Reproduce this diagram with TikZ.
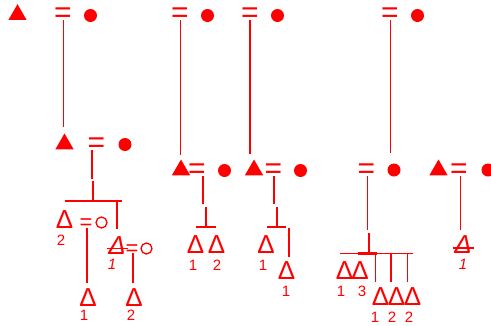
\documentclass[tikz,border=0pt]{standalone}
\usepackage{fontspec}
\setmainfont{Liberation Sans}
\usetikzlibrary{shapes.geometric}

\tikzset{
  wire/.style={red, line width=1.3pt},
  thickbar/.style={red, line width=2.4pt},
  tri/.style={regular polygon, regular polygon sides=3, fill=red, inner sep=0pt, minimum size=21pt},
  blob/.style={circle, fill=red, inner sep=0pt, minimum size=13pt},
  ring/.style={circle, draw=red, line width=1.3pt, inner sep=0pt, minimum size=11pt},
  eq/.style={text=red, inner sep=0pt, yshift=-2pt, font=\fontsize{30}{30}\selectfont},
  smalleq/.style={text=red, inner sep=0pt, yshift=-3pt, font=\fontsize{22}{22}\selectfont},
  dlt/.style={text=red, inner sep=0pt, font=\fontsize{26}{26}\selectfont},
  idx/.style={text=red, inner sep=0pt, font=\fontsize{15}{15}\selectfont},
}

\begin{document}
\begin{tikzpicture}[x=1pt,y=-1pt]
\useasboundingbox (0,0) rectangle (491,325);

% top row
\node[tri] (t1) at (17.5,14.7) {};
\node[eq] (e1) at (63,13) {=};
\node[blob] (d1) at (90.5,15.5) {};
\node[eq] (e2) at (180,13) {=};
\node[blob] (d2) at (207.5,15.5) {};
\node[eq] (e3) at (250,13) {=};
\node[blob] (d3) at (277.5,15.5) {};
\node[eq] (e4) at (390,13) {=};
\node[blob] (d4) at (417.5,15.5) {};

\coordinate (k1) at (63.7,127);
\coordinate (k2) at (180.7,155);
\coordinate (k3) at (250,154);
\coordinate (k4) at (390.7,153);
\draw[wire] (k1 |- 0,20) -- (k1);
\draw[wire] (k2 |- 0,20) -- (k2);
\draw[wire] (k3 |- 0,20) -- (k3);
\draw[wire] (k4 |- 0,20) -- (k4);

% second row
\node[tri] (t2) at (64.5,144) {};
\node[eq] (e5) at (96.5,143) {=};
\node[blob] (d5) at (125,144.5) {};
\node[tri] (t3) at (181,170) {};
\node[eq] (e6) at (197,169.5) {=};
\node[blob] (d6) at (224.5,170.5) {};
\node[tri] (t4) at (254,170) {};
\node[eq] (e7) at (273.5,169.5) {=};
\node[blob] (d7) at (300.5,170.5) {};
\node[eq] (e8) at (366.5,169.5) {=};
\node[blob] (d8) at (394,170) {};
\node[tri] (t5) at (438.5,170) {};
\node[eq] (e9) at (459,169.5) {=};
\node[blob] (d9) at (488,170) {};

% first group
\coordinate (bar1l) at (65,201);
\coordinate (bar1r) at (122,201);
\draw[wire] (92,150) -- (92,179);
\draw[wire] (93,181) -- (93,201);
\draw[wire] (bar1l) -- (bar1r);
\draw[thickbar] (83,201) -- (103,201);

\node[dlt] (a1) at (64.5,219.5) {Δ};
\node[idx] (a1i) at (61,240) {2};
\node[smalleq] (a1e) at (86,221) {=};
\node[ring] (a1r) at (101.5,222.5) {};
\node[dlt] (b1) at (88,298) {Δ};
\node[idx] (b1i) at (84,315) {1};
\draw[wire] (87,228) -- (87,283);

\node[dlt] (s1) at (117,245.5) {\itshape Δ};
\draw[wire] ([xshift=-1pt,yshift=-3pt]s1.west) -- ([xshift=2pt,yshift=-3pt]s1.east);
\node[idx] (s1i) at (112,264) {\itshape 1};
\node[smalleq] (s1e) at (132,247) {=};
\node[ring] (s1r) at (146.5,248.5) {};
\draw[wire] (bar1r -| 117,0) -- (117,229);
\node[dlt] (b2) at (134,298) {Δ};
\node[idx] (b2i) at (131,315) {2};
\draw[wire] (133,253) -- (133,283);

% second group
\draw[wire] (203,176) -- (203,204);
\draw[wire] (206,207) -- (206,227);
\draw[wire] (196,227) -- (216,227);
\node[dlt] (c1) at (195.5,245) {Δ};
\node[idx] (c1i) at (193,265) {1};
\node[dlt] (c2) at (216.5,245) {Δ};
\node[idx] (c2i) at (217,265) {2};

% third group
\draw[wire] (274,176) -- (274,204);
\draw[wire] (277,207) -- (277,227);
\draw[wire] (267,227) -- (286,227);
\draw[wire] (289,228) -- (289,257);
\node[dlt] (f1) at (266,245) {Δ};
\node[idx] (f1i) at (263,265) {1};
\node[dlt] (f2) at (286.5,271) {Δ};
\node[idx] (f2i) at (286,291) {1};

% fourth group
\draw[wire] (367.3,176) -- (367.3,230);
\draw[wire] (369,233) -- (369,253);
\draw[wire] (340,253.3) -- (413,253.3);
\draw[thickbar] (358,253.3) -- (377,253.3);
\draw[wire] (375.7,253) -- (375.7,282);
\draw[wire] (391,253) -- (391,282);
\draw[wire] (407.3,253) -- (407.3,282);
\node[dlt] (g1) at (344.5,271) {Δ};
\node[idx] (g1i) at (341,291) {1};
\node[dlt] (g2) at (360,271) {Δ};
\node[idx] (g2i) at (362,291) {3};
\node[dlt] (h1) at (380.5,297) {Δ};
\node[idx] (h1i) at (375,317) {1};
\node[dlt] (h2) at (396.5,297) {Δ};
\node[idx] (h2i) at (392,317) {2};
\node[dlt] (h3) at (412.5,297) {Δ};
\node[idx] (h3i) at (409,317) {2};

% fifth group
\draw[wire] (460.7,176) -- (460.7,230);
\node[dlt] (s2) at (463,245) {\itshape Δ};
\draw[wire] ([xshift=-1pt,yshift=-3pt]s2.west) -- ([xshift=2pt,yshift=-3pt]s2.east);
\node[idx] (s2i) at (463,264) {\itshape 1};

\end{tikzpicture}
\end{document}
